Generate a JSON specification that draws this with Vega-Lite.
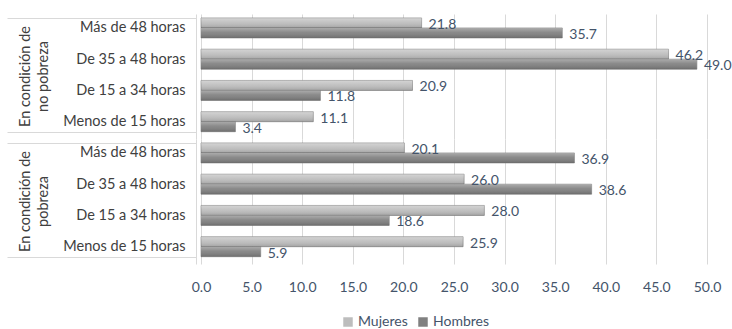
{
  "$schema": "https://vega.github.io/schema/vega-lite/v6.json",
  "background": "white",
  "padding": {"left": 6, "top": 6, "right": 2, "bottom": 2},
  "data": {
    "values": [
      {"grupo": "En condición de|no pobreza", "horas": "Más de 48 horas", "sexo": "Mujeres", "valor": 21.8},
      {"grupo": "En condición de|no pobreza", "horas": "Más de 48 horas", "sexo": "Hombres", "valor": 35.7},
      {"grupo": "En condición de|no pobreza", "horas": "De 35 a 48 horas", "sexo": "Mujeres", "valor": 46.2},
      {"grupo": "En condición de|no pobreza", "horas": "De 35 a 48 horas", "sexo": "Hombres", "valor": 49.0},
      {"grupo": "En condición de|no pobreza", "horas": "De 15 a 34 horas", "sexo": "Mujeres", "valor": 20.9},
      {"grupo": "En condición de|no pobreza", "horas": "De 15 a 34 horas", "sexo": "Hombres", "valor": 11.8},
      {"grupo": "En condición de|no pobreza", "horas": "Menos de 15 horas", "sexo": "Mujeres", "valor": 11.1},
      {"grupo": "En condición de|no pobreza", "horas": "Menos de 15 horas", "sexo": "Hombres", "valor": 3.4},
      {"grupo": "En condición de|pobreza", "horas": "Más de 48 horas", "sexo": "Mujeres", "valor": 20.1},
      {"grupo": "En condición de|pobreza", "horas": "Más de 48 horas", "sexo": "Hombres", "valor": 36.9},
      {"grupo": "En condición de|pobreza", "horas": "De 35 a 48 horas", "sexo": "Mujeres", "valor": 26.0},
      {"grupo": "En condición de|pobreza", "horas": "De 35 a 48 horas", "sexo": "Hombres", "valor": 38.6},
      {"grupo": "En condición de|pobreza", "horas": "De 15 a 34 horas", "sexo": "Mujeres", "valor": 28.0},
      {"grupo": "En condición de|pobreza", "horas": "De 15 a 34 horas", "sexo": "Hombres", "valor": 18.6},
      {"grupo": "En condición de|pobreza", "horas": "Menos de 15 horas", "sexo": "Mujeres", "valor": 25.9},
      {"grupo": "En condición de|pobreza", "horas": "Menos de 15 horas", "sexo": "Hombres", "valor": 5.9}
    ]
  },
  "facet": {
    "row": {
      "field": "grupo",
      "type": "nominal",
      "sort": ["En condición de|no pobreza", "En condición de|pobreza"],
      "header": {
        "title": null,
        "labelOrient": "left",
        "labelAngle": -90,
        "labelExpr": "split(datum.value, '|')",
        "labelFont": "Lato",
        "labelFontSize": 14.5,
        "labelColor": "#404040",
        "labelLineHeight": 18,
        "labelPadding": -52
      }
    }
  },
  "spacing": 0,
  "spec": {
    "width": 506,
    "height": 125,
    "encoding": {
      "y": {
        "field": "horas",
        "type": "nominal",
        "sort": ["Más de 48 horas", "De 35 a 48 horas", "De 15 a 34 horas", "Menos de 15 horas"],
        "scale": {"paddingInner": 0.36, "paddingOuter": 0.18, "align": 0.35},
        "axis": {
          "title": null,
          "tickBand": "extent",
          "tickSize": 189,
          "tickColor": {"condition": {"test": "datum.value === 'Menos de 15 horas' || datum.index < 0", "value": "#d9d9d9"}, "value": "rgba(0,0,0,0)"},
          "labelPadding": -178,
          "offset": 4,
          "domain": true,
          "domainColor": "#d9d9d9",
          "labelFont": "Lato",
          "labelFontSize": 14.5,
          "labelColor": "#404040"
        }
      },
      "yOffset": {"field": "sexo", "sort": ["Mujeres", "Hombres"], "scale": {"paddingInner": 0}},
      "x": {
        "field": "valor",
        "type": "quantitative",
        "scale": {"domain": [0, 50]},
        "axis": {
          "title": null,
          "values": [0, 5, 10, 15, 20, 25, 30, 35, 40, 45, 50],
          "format": ".1f",
          "labelFlush": false,
          "labelOverlap": false,
          "domain": false,
          "ticks": false,
          "grid": true,
          "gridColor": "#d9d9d9",
          "labelFont": "Lato",
          "labelFontSize": 14,
          "labelColor": "#44546a",
          "labelPadding": 16
        }
      }
    },
    "layer": [
      {
        "mark": {"type": "bar", "stroke": "#7a7a7a", "strokeWidth": 0.6},
        "encoding": {
          "color": {
            "field": "sexo",
            "type": "nominal",
            "sort": ["Mujeres", "Hombres"],
            "scale": {"domain": ["Mujeres", "Hombres"], "range": ["#bdbdbd", "#808080"]},
            "legend": {
              "title": null,
              "orient": "none",
              "legendX": 140,
              "legendY": 301,
              "direction": "horizontal",
              "symbolType": "square",
              "symbolSize": 90,
              "symbolStrokeWidth": 0,
              "labelFont": "Lato",
              "labelFontSize": 14,
              "labelColor": "#44546a",
              "labelOffset": 3,
              "columnPadding": 8
            }
          }
        }
      },
      {
        "mark": {
          "type": "bar",
          "fill": {
            "gradient": "linear",
            "x1": 0, "y1": 0, "x2": 0, "y2": 1,
            "stops": [
              {"offset": 0, "color": "rgba(255,255,255,0.35)"},
              {"offset": 0.45, "color": "rgba(255,255,255,0.08)"},
              {"offset": 1, "color": "rgba(0,0,0,0.14)"}
            ]
          }
        }
      },
      {
        "mark": {"type": "text", "align": "left", "baseline": "middle", "dx": 7, "dy": 2, "font": "Lato", "fontSize": 14, "color": "#44546a"},
        "encoding": {"text": {"field": "valor", "type": "quantitative", "format": ".1f"}}
      }
    ]
  },
  "config": {
    "view": {"stroke": null}
  }
}
